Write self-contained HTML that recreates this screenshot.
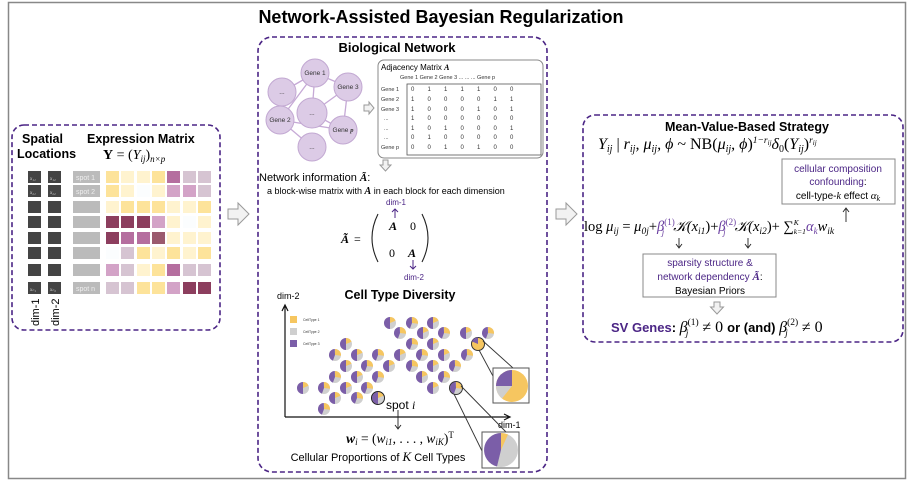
<!DOCTYPE html>
<html><head><meta charset="utf-8"><style>
html,body{margin:0;padding:0;background:#fff}
svg{display:block;font-family:"Liberation Sans",sans-serif}
.m{font-family:"Liberation Serif",serif;font-style:italic}
.r{font-family:"Liberation Serif",serif}
</style></head><body>
<svg width="913" height="489" viewBox="0 0 913 489" xmlns="http://www.w3.org/2000/svg">
<defs>
<g id="pie"><circle r="6" fill="#cfcfcf"/><circle r="3" fill="none" stroke="#7b5ea8" stroke-width="6" stroke-dasharray="9.4 20" transform="rotate(90)"/><circle r="3" fill="none" stroke="#f6c660" stroke-width="6" stroke-dasharray="3.4 20" transform="rotate(-90)"/></g>
<g id="pie2"><circle r="6" fill="#cfcfcf"/><circle r="3" fill="none" stroke="#7b5ea8" stroke-width="6" stroke-dasharray="8 20" transform="rotate(110)"/><circle r="3" fill="none" stroke="#f6c660" stroke-width="6" stroke-dasharray="5 20" transform="rotate(-90)"/></g>
</defs>
<rect x="8.5" y="2.5" width="897" height="476" fill="none" stroke="#888" stroke-width="1.5"/>
<text x="441" y="23" text-anchor="middle" font-size="18" font-weight="bold">Network-Assisted Bayesian Regularization</text>

<g fill="none" stroke="#4b2585" stroke-width="1.6" stroke-dasharray="5 3">
<rect x="12" y="125" width="208" height="205" rx="12"/>
<rect x="258" y="37" width="289" height="435" rx="14"/>
<rect x="583" y="115" width="320" height="227" rx="12"/>
</g>
<g fill="#f2f2f2" stroke="#999" stroke-width="1">
<path d="M228,209 h10 v-6 l11,11 l-11,11 v-6 h-10z"/>
<path d="M556,209 h10 v-6 l11,11 l-11,11 v-6 h-10z"/>
<path d="M364,105 h5 v-3 l5,6 l-5,6 v-3 h-5z"/>
<path d="M383,160 h5 v5 h3 l-5.5,6 l-5.5,-6 h3z"/>
<path d="M714,302 h6 v5 h3.5 l-6.5,7 l-6.5,-7 h3.5z"/>
</g>

<text x="22" y="143" font-size="12.5" font-weight="bold">Spatial</text>
<text x="17" y="158" font-size="12.5" font-weight="bold">Locations</text>
<text x="87" y="143" font-size="12.5" font-weight="bold">Expression Matrix</text>
<text x="103" y="159" font-size="14" class="r"><tspan font-weight="bold" font-style="normal">Y</tspan> = (<tspan font-style="italic">Y<tspan font-size="9" dy="3">ij</tspan></tspan><tspan dy="-3">)</tspan><tspan font-size="9" dy="3" font-style="italic">n×p</tspan></text>
<g fill="#444">
<rect x="28" y="171" width="13" height="12"/><rect x="48" y="171" width="13" height="12"/>
<rect x="28" y="185" width="13" height="12"/><rect x="48" y="185" width="13" height="12"/>
<rect x="28" y="201" width="13" height="12"/><rect x="48" y="201" width="13" height="12"/>
<rect x="28" y="216" width="13" height="12"/><rect x="48" y="216" width="13" height="12"/>
<rect x="28" y="232" width="13" height="12"/><rect x="48" y="232" width="13" height="12"/>
<rect x="28" y="247" width="13" height="12"/><rect x="48" y="247" width="13" height="12"/>
<rect x="28" y="264" width="13" height="12"/><rect x="48" y="264" width="13" height="12"/>
<rect x="28" y="282" width="13" height="12"/><rect x="48" y="282" width="13" height="12"/>
</g>
<g font-size="5" fill="#ddd" class="m">
<text x="30" y="180">x₁₁</text><text x="50" y="180">x₁₂</text>
<text x="30" y="194">x₂₁</text><text x="50" y="194">x₂₂</text>
<text x="30" y="291">xₙ₁</text><text x="50" y="291">xₙ₂</text>
</g>
<g fill="#bbb">
<rect x="73" y="171" width="27" height="12"/><rect x="73" y="185" width="27" height="12"/>
<rect x="73" y="201" width="27" height="12"/><rect x="73" y="216" width="27" height="12"/>
<rect x="73" y="232" width="27" height="12"/><rect x="73" y="247" width="27" height="12"/>
<rect x="73" y="264" width="27" height="12"/><rect x="73" y="282" width="27" height="12"/>
</g>
<g font-size="7" fill="#eee"><text x="76" y="180">spot 1</text><text x="76" y="194">spot 2</text><text x="76" y="291">spot n</text></g>
<g>
<g transform="translate(0,171)"><rect x="106" width="13" height="12" fill="#fde39a"/><rect x="121" width="13" height="12" fill="#fff3cf"/><rect x="137" width="13" height="12" fill="#fff3cf"/><rect x="152" width="13" height="12" fill="#fde39a"/><rect x="167" width="13" height="12" fill="#b56e9f"/><rect x="183" width="13" height="12" fill="#d6c4d2"/><rect x="198" width="13" height="12" fill="#d6c4d2"/></g>
<g transform="translate(0,185)"><rect x="106" width="13" height="12" fill="#fde39a"/><rect x="121" width="13" height="12" fill="#fff3cf"/><rect x="137" width="13" height="12" fill="#fbfdfe"/><rect x="152" width="13" height="12" fill="#fff3cf"/><rect x="167" width="13" height="12" fill="#d3a3c7"/><rect x="183" width="13" height="12" fill="#d3a3c7"/><rect x="198" width="13" height="12" fill="#d6c4d2"/></g>
<g transform="translate(0,201)"><rect x="106" width="13" height="12" fill="#fff3cf"/><rect x="121" width="13" height="12" fill="#fde39a"/><rect x="137" width="13" height="12" fill="#fde39a"/><rect x="152" width="13" height="12" fill="#fde39a"/><rect x="167" width="13" height="12" fill="#fff3cf"/><rect x="183" width="13" height="12" fill="#fff3cf"/><rect x="198" width="13" height="12" fill="#fde39a"/></g>
<g transform="translate(0,216)"><rect x="106" width="13" height="12" fill="#8c3e5e"/><rect x="121" width="13" height="12" fill="#8c3e5e"/><rect x="137" width="13" height="12" fill="#8c3e5e"/><rect x="152" width="13" height="12" fill="#d3a3c7"/><rect x="167" width="13" height="12" fill="#fff3cf"/><rect x="183" width="13" height="12" fill="#fbfdfe"/><rect x="198" width="13" height="12" fill="#fff3cf"/></g>
<g transform="translate(0,232)"><rect x="106" width="13" height="12" fill="#8c3e5e"/><rect x="121" width="13" height="12" fill="#b56e9f"/><rect x="137" width="13" height="12" fill="#b56e9f"/><rect x="152" width="13" height="12" fill="#9b5a6e"/><rect x="167" width="13" height="12" fill="#fff3cf"/><rect x="183" width="13" height="12" fill="#fff3cf"/><rect x="198" width="13" height="12" fill="#fff3cf"/></g>
<g transform="translate(0,247)"><rect x="106" width="13" height="12" fill="#fbfdfe"/><rect x="121" width="13" height="12" fill="#d6c4d2"/><rect x="137" width="13" height="12" fill="#fde39a"/><rect x="152" width="13" height="12" fill="#fff3cf"/><rect x="167" width="13" height="12" fill="#fde39a"/><rect x="183" width="13" height="12" fill="#fff3cf"/><rect x="198" width="13" height="12" fill="#fde39a"/></g>
<g transform="translate(0,264)"><rect x="106" width="13" height="12" fill="#d3a3c7"/><rect x="121" width="13" height="12" fill="#d6c4d2"/><rect x="137" width="13" height="12" fill="#fff3cf"/><rect x="152" width="13" height="12" fill="#fde39a"/><rect x="167" width="13" height="12" fill="#b56e9f"/><rect x="183" width="13" height="12" fill="#d6c4d2"/><rect x="198" width="13" height="12" fill="#d6c4d2"/></g>
<g transform="translate(0,282)"><rect x="106" width="13" height="12" fill="#d6c4d2"/><rect x="121" width="13" height="12" fill="#d6c4d2"/><rect x="137" width="13" height="12" fill="#fde39a"/><rect x="152" width="13" height="12" fill="#fde39a"/><rect x="167" width="13" height="12" fill="#d3a3c7"/><rect x="183" width="13" height="12" fill="#8c3e5e"/><rect x="198" width="13" height="12" fill="#8c3e5e"/></g>
</g>
<text font-size="11" transform="translate(39,326) rotate(-90)">dim-1</text>
<text font-size="11" transform="translate(59,326) rotate(-90)">dim-2</text>

<text x="397" y="52" text-anchor="middle" font-size="13" font-weight="bold">Biological Network</text>
<g stroke="#c6a9d6" stroke-width="1.3">
<line x1="315" y1="73" x2="282" y2="92"/><line x1="315" y1="73" x2="348" y2="87"/><line x1="315" y1="73" x2="312" y2="113"/><line x1="315" y1="73" x2="280" y2="120"/>
<line x1="348" y1="87" x2="312" y2="113"/><line x1="348" y1="87" x2="343" y2="130"/><line x1="312" y1="113" x2="343" y2="130"/><line x1="280" y1="120" x2="312" y2="147"/><line x1="280" y1="120" x2="343" y2="130"/>
</g>
<g fill="#dccbe6" stroke="#c2a8d2" stroke-width="1">
<circle cx="315" cy="73" r="14"/><circle cx="282" cy="92" r="14"/><circle cx="348" cy="87" r="14"/><circle cx="312" cy="113" r="15"/><circle cx="280" cy="120" r="14"/><circle cx="343" cy="130" r="14"/><circle cx="312" cy="147" r="14"/>
</g>
<g font-size="6.5" text-anchor="middle" fill="#333">
<text x="315" y="75">Gene 1</text><text x="282" y="94">...</text><text x="348" y="89">Gene 3</text><text x="312" y="115">...</text><text x="280" y="122">Gene 2</text><text x="343" y="132">Gene <tspan class="m" font-weight="bold">p</tspan></text><text x="312" y="149">...</text>
</g>
<rect x="378" y="60" width="165" height="98" rx="6" fill="#fff" stroke="#888" stroke-width="1"/>
<text x="381" y="70" font-size="8">Adjacency Matrix <tspan class="m" font-weight="bold">A</tspan></text>
<g font-size="5.5" fill="#333"><text x="400" y="79">Gene 1 Gene 2  Gene 3  ...      ...       ...   Gene p</text></g>
<rect x="407" y="84" width="134" height="71" fill="none" stroke="#555" stroke-width="0.8"/>
<g font-size="5.5" fill="#333">
<text x="381" y="91">Gene 1</text><text x="381" y="101">Gene 2</text><text x="381" y="111">Gene 3</text><text x="384" y="120">...</text><text x="384" y="130">...</text><text x="384" y="139">...</text><text x="381" y="149">Gene p</text>
</g>
<g font-size="6" fill="#333" word-spacing="11.5">
<text x="411" y="91">0 1 1 1 1 0 0</text>
<text x="411" y="101">1 0 0 0 0 1 1</text>
<text x="411" y="111">1 0 0 0 1 0 1</text>
<text x="411" y="120">1 0 0 0 0 0 0</text>
<text x="411" y="130">1 0 1 0 0 0 1</text>
<text x="411" y="139">0 1 0 0 0 0 0</text>
<text x="411" y="149">0 0 1 0 1 0 0</text>
</g>
<text x="259" y="181" font-size="11">Network information <tspan class="m" font-weight="bold">Ã</tspan>:</text>
<text x="267" y="194" font-size="9">a block-wise matrix with <tspan class="m" font-weight="bold" font-size="10">A</tspan> in each block for each dimension</text>
<text x="386" y="205" font-size="8" fill="#4b2585">dim-1</text>
<path d="M395,218 v-9 M392,212 l3,-3 l3,3" stroke="#4b2585" fill="none" stroke-width="1"/>
<text x="341" y="243" font-size="12" class="r" font-weight="bold" font-style="italic">Ã</text>
<text x="354" y="243" font-size="12" class="r">=</text>
<path d="M378,214 Q366,238 378,262" stroke="#222" fill="none" stroke-width="1.1"/>
<path d="M422,214 Q434,238 422,262" stroke="#222" fill="none" stroke-width="1.1"/>
<text x="389" y="230" font-size="12" class="m" font-weight="bold">A</text><text x="410" y="230" font-size="12" class="r">0</text>
<text x="389" y="257" font-size="12" class="r">0</text><text x="408" y="257" font-size="12" class="m" font-weight="bold">A</text>
<path d="M413,260 v9 M410,266 l3,3 l3,-3" stroke="#4b2585" fill="none" stroke-width="1"/>
<text x="404" y="280" font-size="8" fill="#4b2585">dim-2</text>

<text x="400" y="299" text-anchor="middle" font-size="12.5" font-weight="bold">Cell Type Diversity</text>
<text x="277" y="299" font-size="9">dim-2</text>
<text x="498" y="428" font-size="9">dim-1</text>
<path d="M285,417 V306 M282,311 l3,-6 l3,6 M285,417 H509 M504,414 l6,3 l-6,3" stroke="#111" fill="none" stroke-width="1.2"/>
<rect x="290" y="316" width="7" height="7" fill="#f6c660"/><rect x="290" y="328" width="7" height="7" fill="#cfcfcf"/><rect x="290" y="340" width="7" height="7" fill="#7b5ea8"/>
<g font-size="3.5" fill="#333"><text x="303" y="321">CellType 1</text><text x="303" y="333">CellType 2</text><text x="303" y="345">CellType 3</text></g>
<g>
<use href="#pie" x="390" y="323"/><use href="#pie2" x="412" y="323"/><use href="#pie" x="433" y="323"/>
<use href="#pie2" x="400" y="333"/><use href="#pie" x="423" y="333"/><use href="#pie2" x="444" y="333"/><use href="#pie" x="466" y="333"/><use href="#pie2" x="488" y="333"/>
<use href="#pie" x="346" y="344"/><use href="#pie2" x="412" y="344"/><use href="#pie" x="433" y="344"/>
<use href="#pie2" x="335" y="355"/><use href="#pie" x="357" y="355"/><use href="#pie2" x="378" y="355"/><use href="#pie" x="400" y="355"/><use href="#pie2" x="422" y="355"/><use href="#pie" x="444" y="355"/><use href="#pie2" x="467" y="355"/>
<use href="#pie" x="346" y="366"/><use href="#pie2" x="367" y="366"/><use href="#pie" x="389" y="366"/><use href="#pie2" x="412" y="366"/><use href="#pie" x="433" y="366"/><use href="#pie2" x="455" y="366"/>
<use href="#pie2" x="335" y="377"/><use href="#pie" x="357" y="377"/><use href="#pie2" x="378" y="377"/><use href="#pie" x="422" y="377"/><use href="#pie2" x="444" y="377"/>
<use href="#pie" x="303" y="388"/><use href="#pie2" x="324" y="388"/><use href="#pie" x="346" y="388"/><use href="#pie2" x="367" y="388"/><use href="#pie" x="433" y="388"/><use href="#pie2" x="456" y="388"/>
<use href="#pie" x="335" y="398"/><use href="#pie2" x="357" y="398"/><use href="#pie" x="378" y="398"/>
<use href="#pie2" x="324" y="409"/>
</g>
<circle cx="378" cy="398" r="6.5" fill="none" stroke="#222" stroke-width="1"/>
<circle cx="478" cy="344" r="6.5" fill="#f6c660" stroke="#333" stroke-width="1"/>
<path d="M478,344 L478,337.5 A6.5,6.5 0 0,0 472,341.5 Z" fill="#7b5ea8"/>
<circle cx="456" cy="388" r="6.5" fill="none" stroke="#333" stroke-width="1"/>
<g stroke="#333" stroke-width="0.9">
<line x1="479" y1="350" x2="494" y2="378"/><line x1="483" y1="341" x2="513" y2="368"/>
<line x1="454" y1="394" x2="483" y2="453"/><line x1="461" y1="386" x2="507" y2="433"/>
</g>
<rect x="493" y="368" width="36" height="35" fill="#fff" stroke="#555" stroke-width="1"/>
<circle cx="512" cy="386" r="16" fill="#f6c660"/>
<path d="M512,386 L496,386 A16,16 0 0,0 502,398.5 Z" fill="#cfcfcf"/>
<path d="M512,386 L512,370 A16,16 0 0,0 496,386 Z" fill="#7b5ea8"/>
<rect x="482" y="432" width="37" height="36" fill="#fff" stroke="#555" stroke-width="1"/>
<circle cx="501" cy="450" r="17" fill="#cfcfcf"/>
<path d="M501,450 L501,433 A17,17 0 0,1 508,434.5 Z" fill="#f6c660"/>
<path d="M501,450 L501,433 A17,17 0 0,0 497,466.5 Z" fill="#7b5ea8"/>
<text x="386" y="409" font-size="12">spot <tspan class="m">i</tspan></text>
<path d="M398,410 v18 M395,425 l3,4 l3,-4" stroke="#222" fill="none" stroke-width="0.9"/>
<text x="400" y="443" text-anchor="middle" font-size="13.5" class="m"><tspan font-weight="bold">w</tspan><tspan font-size="9" dy="2">i</tspan><tspan dy="-2" font-style="normal"> = (</tspan>w<tspan font-size="9" dy="2">i1</tspan><tspan dy="-2" font-style="normal">, . . . , </tspan>w<tspan font-size="9" dy="2">iK</tspan><tspan dy="-2" font-style="normal">)</tspan><tspan font-size="9" dy="-5" font-style="normal">T</tspan></text>
<text x="378" y="461" text-anchor="middle" font-size="11">Cellular Proportions of <tspan class="m" font-size="13">K</tspan> Cell Types</text>

<text x="747" y="131" text-anchor="middle" font-size="12.5" font-weight="bold">Mean-Value-Based Strategy</text>
<text x="598" y="149" font-size="16" class="m">Y<tspan font-size="10" dy="3">ij</tspan><tspan dy="-3" font-style="normal"> | </tspan>r<tspan font-size="10" dy="3">ij</tspan><tspan dy="-3">, μ</tspan><tspan font-size="10" dy="3">ij</tspan><tspan dy="-3">, ϕ </tspan><tspan font-style="normal">~ NB(</tspan>μ<tspan font-size="10" dy="3">ij</tspan><tspan dy="-3">, ϕ</tspan><tspan font-style="normal">)</tspan><tspan font-size="9.5" dy="-6">1−r</tspan><tspan font-size="7" dy="2">ij</tspan><tspan dy="4">δ</tspan><tspan font-size="10" dy="3" font-style="normal">0</tspan><tspan dy="-3" font-style="normal">(</tspan>Y<tspan font-size="10" dy="3">ij</tspan><tspan dy="-3" font-style="normal">)</tspan><tspan font-size="9.5" dy="-6">r</tspan><tspan font-size="7" dy="2">ij</tspan></text>
<rect x="782" y="159" width="113" height="45" fill="#fff" stroke="#888" stroke-width="1"/>
<text x="838" y="172" text-anchor="middle" font-size="10" fill="#4b2585">cellular composition</text>
<text x="838" y="185" text-anchor="middle" font-size="10"><tspan fill="#4b2585">confounding</tspan>:</text>
<text x="838" y="199" text-anchor="middle" font-size="10">cell-type-<tspan class="m">k</tspan> effect <tspan class="m" font-size="11">α<tspan font-size="8" dy="2">k</tspan></tspan></text>
<path d="M846,222 v-13 M843,212 l3,-4 l3,4" stroke="#222" fill="none" stroke-width="0.9"/>
<text x="584" y="231" font-size="14.5" class="m"><tspan font-style="normal">log </tspan>μ<tspan font-size="9.5" dy="3">ij</tspan><tspan dy="-3" font-style="normal"> = </tspan>μ<tspan font-size="9.5" dy="3">0j</tspan><tspan dy="-3" font-style="normal">+</tspan><tspan fill="#6a3fa0">β<tspan font-size="9" dy="-6" font-style="normal">(1)</tspan><tspan font-size="9" dx="-13" dy="10">j</tspan></tspan><tspan dx="9" dy="-4">𝒦(x</tspan><tspan font-size="9.5" dy="3">i1</tspan><tspan dy="-3" font-style="normal">)+</tspan><tspan fill="#6a3fa0">β<tspan font-size="9" dy="-6" font-style="normal">(2)</tspan><tspan font-size="9" dx="-13" dy="10">j</tspan></tspan><tspan dx="9" dy="-4">𝒦(x</tspan><tspan font-size="9.5" dy="3">i2</tspan><tspan dy="-3" font-style="normal">)+ ∑</tspan><tspan font-size="7.5" dy="-6">K</tspan><tspan font-size="7.5" dx="-5" dy="9">k=1</tspan><tspan dy="-3" fill="#6a3fa0">α<tspan font-size="9" dy="3">k</tspan></tspan><tspan dy="-3">w</tspan><tspan font-size="9.5" dy="3">ik</tspan></text>
<path d="M679,238 v9 M676,244 l3,4 l3,-4 M748,238 v9 M745,244 l3,4 l3,-4" stroke="#222" fill="none" stroke-width="0.9"/>
<rect x="643" y="254" width="133" height="43" fill="#fff" stroke="#888" stroke-width="1"/>
<text x="710" y="266" text-anchor="middle" font-size="10" fill="#4b2585">sparsity structure &amp;</text>
<text x="710" y="280" text-anchor="middle" font-size="10"><tspan fill="#4b2585">network dependency </tspan><tspan class="m" font-weight="bold" fill="#4b2585" font-size="11">Ã</tspan>:</text>
<text x="710" y="294" text-anchor="middle" font-size="10">Bayesian Priors</text>
<text x="611" y="332" font-size="13" font-weight="bold"><tspan fill="#4b2585">SV Genes</tspan>: <tspan class="m" font-weight="normal" font-size="16">β<tspan font-size="9.5" dy="-7" font-style="normal">(1)</tspan><tspan font-size="9.5" dx="-13" dy="11">j</tspan></tspan><tspan dx="10" dy="-4" class="r" font-weight="normal" font-size="16"> ≠ 0 </tspan>or (and) <tspan class="m" font-weight="normal" font-size="16">β<tspan font-size="9.5" dy="-7" font-style="normal">(2)</tspan><tspan font-size="9.5" dx="-13" dy="11">j</tspan></tspan><tspan dx="10" dy="-4" class="r" font-weight="normal" font-size="16"> ≠ 0</tspan></text>
</svg>
</body></html>
